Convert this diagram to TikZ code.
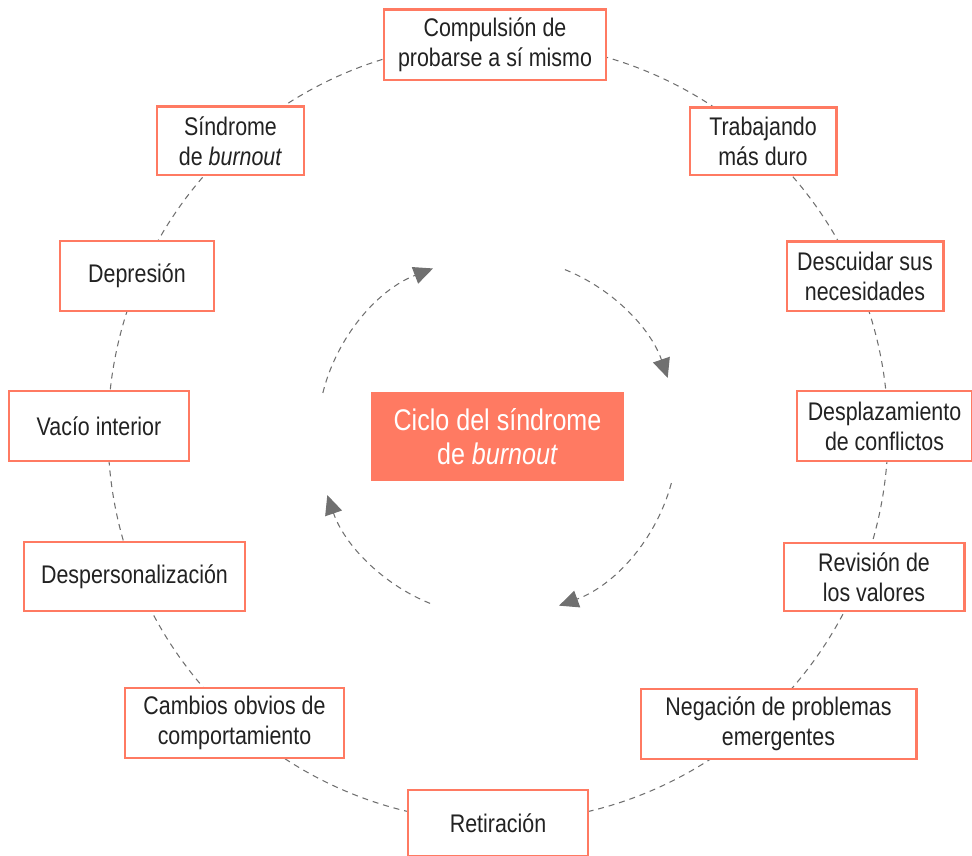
\documentclass[tikz,border=0pt]{standalone}
\usepackage{fontspec}
\setmainfont{Liberation Sans}[FakeStretch=0.84]
\usetikzlibrary{arrows.meta}
\definecolor{Salmon}{HTML}{FF7A62}
\definecolor{Cinder}{HTML}{222222}
\definecolor{Dashgray}{HTML}{707070}
\tikzset{
  stage/.style={draw=Salmon, line width=1.7pt, fill=white, text=Cinder, align=center, inner sep=0pt, font=\fontsize{14.5}{17}\selectfont},
  ring/.style={draw=Dashgray, line width=0.6pt, dash pattern=on 3.4pt off 2.8pt},
  turn/.style={ring, -{Triangle[length=11pt,width=10pt,fill=Dashgray]}}
}

\begin{document}
\begin{tikzpicture}[x=0.2cm,y=0.2cm]
        \useasboundingbox (0,0) rectangle (97.2,-85.6);
        \coordinate (hub) at (49.8,-43.2);
        \draw[ring] (hub) circle[radius=7.8cm];
        \node[stage, minimum width=4.44cm, minimum height=1.4cm] (comp) at (49.5,-4.5) {Compulsión de\\probarse a sí mismo};
        \node[stage, minimum width=2.92cm, minimum height=1.34cm] (trab) at (76.3,-14.15) {Trabajando\\más duro};
        \node[stage, minimum width=3.12cm, minimum height=1.38cm] (desc) at (86.5,-27.65) {Descuidar sus\\necesidades};
        \node[stage, minimum width=3.5cm, minimum height=1.4cm] (despl) at (88.45,-42.6) {Desplazamiento\\de conflictos};
        \node[stage, minimum width=3.6cm, minimum height=1.36cm] (revi) at (87.4,-57.7) {Revisión de\\los valores};
        \node[stage, minimum width=5.5cm, minimum height=1.4cm] (nega) at (77.85,-72.4) {Negación de problemas\\emergentes};
        \node[stage, minimum width=3.6cm, minimum height=1.32cm] (reti) at (49.8,-82.3) {Retiración};
        \node[stage, minimum width=4.38cm, minimum height=1.4cm] (camb) at (23.45,-72.3) {Cambios obvios de\\comportamiento};
        \node[stage, minimum width=4.42cm, minimum height=1.38cm] (desp) at (13.45,-57.65) {Despersonalización};
        \node[stage, minimum width=3.6cm, minimum height=1.4cm] (vaci) at (9.9,-42.6) {Vacío interior};
        \node[stage, minimum width=3.08cm, minimum height=1.4cm] (depr) at (13.7,-27.6) {Depresión};
        \node[stage, minimum width=2.94cm, minimum height=1.36cm] (sind) at (23.05,-14.1) {Síndrome\\de \emph{burnout}};
        \node[fill=Salmon, text=white, align=center, inner sep=0pt, minimum width=5.06cm, minimum height=1.78cm, font=\fontsize{17}{19.5}\selectfont] (core) at (49.75,-43.65) {Ciclo del síndrome\\de \emph{burnout}};
        \draw[turn] ([shift={(166:3.6cm)}]core.center) arc[start angle=166, end angle=111, radius=3.6cm];
        \draw[turn] ([shift={(68:3.6cm)}]core.center) arc[start angle=68, end angle=19, radius=3.6cm];
        \draw[turn] ([shift={(-15:3.6cm)}]core.center) arc[start angle=-15, end angle=-70, radius=3.6cm];
        \draw[turn] ([shift={(-112:3.6cm)}]core.center) arc[start angle=-112, end angle=-161, radius=3.6cm];
      \end{tikzpicture}
\end{document}
